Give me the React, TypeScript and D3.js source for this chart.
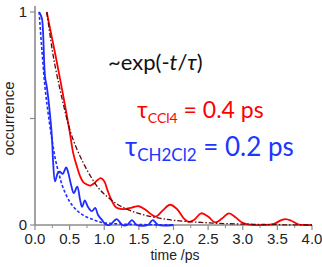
import React from 'react';
import * as d3 from 'd3';

// values: [time ps, occurrence]
const redData: [number, number][] = [
  [0.17, 1.0], [0.25, 0.87], [0.3, 0.79], [0.4, 0.62], [0.5, 0.44], [0.55, 0.34],
  [0.6, 0.28], [0.65, 0.23], [0.7, 0.2], [0.75, 0.19], [0.8, 0.185], [0.85, 0.195],
  [0.9, 0.21], [0.95, 0.22], [1.0, 0.205], [1.05, 0.16], [1.1, 0.12], [1.15, 0.09],
  [1.2, 0.078], [1.3, 0.075], [1.4, 0.082], [1.5, 0.088], [1.6, 0.07], [1.7, 0.045],
  [1.75, 0.04], [1.85, 0.07], [1.95, 0.095], [2.05, 0.075], [2.15, 0.03], [2.22, 0.015],
  [2.3, 0.025], [2.4, 0.055], [2.5, 0.04], [2.6, 0.012], [2.7, 0.03], [2.8, 0.055],
  [2.9, 0.035], [3.0, 0.01], [3.1, 0.002], [3.3, 0], [3.45, 0.005], [3.55, 0.022],
  [3.62, 0.028], [3.7, 0.02], [3.8, 0.003], [3.9, 0], [4.0, 0],
];

const blueData: [number, number][] = [
  [0.06, 1.0], [0.1, 0.97], [0.115, 0.915], [0.145, 0.695], [0.17, 0.65], [0.19, 0.6],
  [0.245, 0.41], [0.26, 0.305], [0.29, 0.205], [0.33, 0.245], [0.36, 0.25], [0.4, 0.24],
  [0.45, 0.27], [0.48, 0.245], [0.52, 0.19], [0.56, 0.15], [0.61, 0.18], [0.65, 0.12],
  [0.68, 0.085], [0.72, 0.115], [0.765, 0.085], [0.82, 0.065], [0.87, 0.08], [0.91, 0.047],
  [0.97, 0.023], [1.01, 0.005], [1.08, 0], [1.18, 0.028], [1.26, 0], [1.33, 0],
  [1.4, 0.023], [1.47, 0], [1.63, 0], [1.7, 0.023], [1.78, 0], [2.0, 0],
];

const redFit: [number, number][] = [
  [0.17, 1.0], [0.25, 0.82], [0.3, 0.73], [0.4, 0.58], [0.5, 0.45], [0.6, 0.36],
  [0.7, 0.29], [0.8, 0.23], [0.9, 0.18], [1.0, 0.145], [1.2, 0.095], [1.4, 0.065],
  [1.6, 0.045], [1.8, 0.032], [2.0, 0.022], [2.4, 0.012], [2.8, 0.006], [3.2, 0.003],
  [3.6, 0.001], [4.0, 0],
];

const blueFit: [number, number][] = [
  [0.06, 1.0], [0.1, 0.82], [0.15, 0.63], [0.2, 0.5], [0.25, 0.39], [0.3, 0.3],
  [0.35, 0.235], [0.4, 0.18], [0.5, 0.11], [0.6, 0.07], [0.7, 0.045], [0.8, 0.03],
  [0.9, 0.018], [1.0, 0.01], [1.2, 0.005], [1.5, 0.002], [2.0, 0],
];

const xTicks = [0, 0.5, 1, 1.5, 2, 2.5, 3, 3.5, 4];
const xMinorTicks = [0.25, 0.75, 1.25, 1.75, 2.25, 2.75, 3.25, 3.75];
const yTicks = [0, 0.5, 1];
const yTickLabels = ['0', '', '1'];

const W = 322;
const H = 267;

const App: React.FC = () => {
  const x = d3.scaleLinear().domain([0, 4]).range([35, 312]);
  const y = d3.scaleLinear().domain([0, 1]).range([225, 12]);

  const line = d3
    .line<[number, number]>()
    .x((d) => x(d[0]))
    .y((d) => y(d[1]))
    .curve(d3.curveCatmullRom.alpha(0.5));

  const axisColor = '#8c8c8c';
  const font = '"Liberation Sans", Arial, sans-serif';
  const txtFont = 'Lato, "Open Sans", sans-serif';

  return (
    <div style={{ position: 'absolute', left: 0, top: 0 }}>
      <svg width={W} height={H} style={{ display: 'block', background: '#fff' }}>
        {/* axes */}
        <line x1={x(0)} x2={x(0)} y1={y(1) - 6} y2={y(0)} stroke={axisColor} strokeWidth={1.6} />
        <line x1={x(0)} x2={x(4)} y1={y(0)} y2={y(0)} stroke={axisColor} strokeWidth={1.6} />
        {yTicks.map((t, i) => (
          <g key={'y' + t}>
            <line x1={x(0) - 5} x2={x(0)} y1={y(t)} y2={y(t)} stroke={axisColor} strokeWidth={1.2} />
            {yTickLabels[i] && (
              <text x={x(0) - 8} y={y(t) + 5} textAnchor="end" fontFamily={font} fontSize={15} fill="#222">
                {yTickLabels[i]}
              </text>
            )}
          </g>
        ))}
        {xTicks.map((t) => (
          <g key={'x' + t}>
            <line x1={x(t)} x2={x(t)} y1={y(0)} y2={y(0) + 5} stroke={axisColor} strokeWidth={1.2} />
            <text x={x(t)} y={y(0) + 19} textAnchor="middle" fontFamily={font} fontSize={15} fill="#222">
              {t.toFixed(1)}
            </text>
          </g>
        ))}
        {xMinorTicks.map((t) => (
          <line key={'m' + t} x1={x(t)} x2={x(t)} y1={y(0)} y2={y(0) + 3} stroke={axisColor} strokeWidth={1} />
        ))}
        <text x={175} y={260} textAnchor="middle" fontFamily={font} fontSize={14} fill="#222">
          time /ps
        </text>
        <text
          transform={`translate(14,${y(0.5)}) rotate(-90)`}
          textAnchor="middle"
          fontFamily={font}
          fontSize={15}
          fill="#222"
        >
          occurrence
        </text>

        {/* curves */}
        <path d={line(redData) ?? ''} fill="none" stroke="#ff0000" strokeWidth={1.8} />
        <path d={line(blueData) ?? ''} fill="none" stroke="#1f2bff" strokeWidth={1.8} />
        <path
          d={line(redFit) ?? ''}
          fill="none"
          stroke="#5a0a0a"
          strokeWidth={1.3}
          strokeDasharray="5,2,1.5,2"
        />
        <path d={line(blueFit) ?? ''} fill="none" stroke="#1f2bff" strokeWidth={1.6} strokeDasharray="3,2" />

        {/* annotations */}
        <text x={108} y={70} fontFamily={txtFont} fontSize={22} fill="#111">
          ~exp(-<tspan fontStyle="italic">t</tspan>/<tspan fontStyle="italic">τ</tspan>)
        </text>
        <text x={137} y={118} fontFamily={txtFont} fontSize={23} fill="#ff0000">
          τ<tspan fontSize={14} dy={5}>CCl4</tspan>
          <tspan dy={-5}> = 0.4 ps</tspan>
        </text>
        <text x={125} y={156} fontFamily={txtFont} fontSize={26} fill="#2035ff">
          τ<tspan fontSize={17} dy={5}>CH2Cl2</tspan>
          <tspan dy={-5}> = 0.2 ps</tspan>
        </text>
      </svg>
    </div>
  );
};

export default App;
